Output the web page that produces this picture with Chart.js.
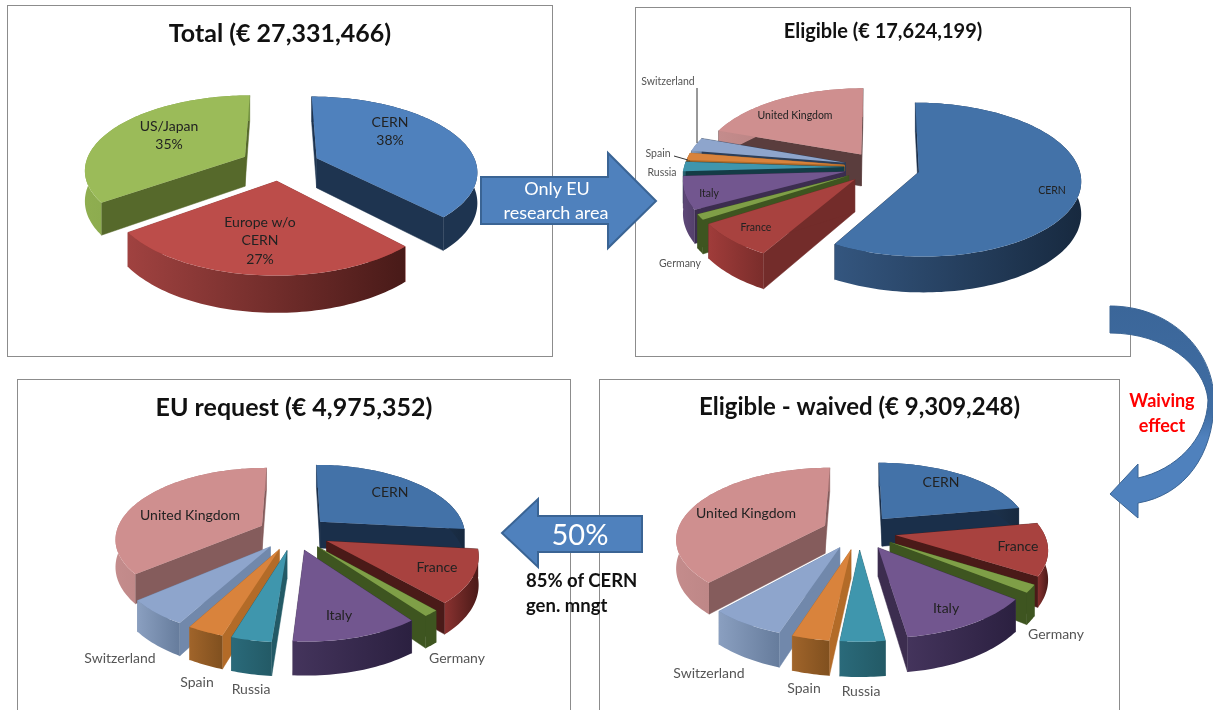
<!DOCTYPE html>
<html><head><meta charset="utf-8">
<script src="https://cdn.jsdelivr.net/npm/chart.js@4"></script>
<style>
html,body{margin:0;padding:0;background:#fff;overflow:hidden}
#page{position:relative;width:1213px;height:710px;overflow:hidden;font-family:Lato,sans-serif;filter:blur(.35px)}
.box{position:absolute;border:1px solid #8c8c8c;box-sizing:border-box;background:#fff}
canvas{display:block}
svg{position:absolute;left:0;top:0}
</style></head><body>
<div id="page">
<div class="box" style="left:7px;top:5px;width:546px;height:352px"><canvas id="c1" width="544" height="350"></canvas></div>
<div class="box" style="left:635px;top:7px;width:496px;height:350px"><canvas id="c2" width="494" height="348"></canvas></div>
<div class="box" style="left:17px;top:379px;width:554px;height:345px"><canvas id="c3" width="552" height="343"></canvas></div>
<div class="box" style="left:599px;top:379px;width:521px;height:345px"><canvas id="c4" width="519" height="343"></canvas></div>
<svg width="1213" height="710" font-family="Lato,sans-serif">
<defs><linearGradient id="curve" x1="0" y1="0" x2="0" y2="1"><stop offset="0" stop-color="#3b6699"/><stop offset=".5" stop-color="#3f6da3"/><stop offset=".62" stop-color="#4f81bd"/><stop offset="1" stop-color="#4f81bd"/></linearGradient></defs>
<path d="M481,177 H608 V153 L656,201 L608,248 V224 H481 Z" fill="#4f81bd" stroke="#3a6494" stroke-width="2"/>
<text x="557" y="195" fill="#fff" font-size="18" text-anchor="middle">Only EU</text>
<text x="556" y="219" fill="#fff" font-size="18" text-anchor="middle">research area</text>
<path d="M642,516 H538 V499 L502,533 L538,567 V552 H642 Z" fill="#4f81bd" stroke="#3a6494" stroke-width="2"/>
<text x="580" y="545" fill="#fff" font-size="29" text-anchor="middle">50%</text>
<text x="526" y="587" fill="#111" font-size="18.5" font-weight="700">85% of CERN</text>
<text x="526" y="612" fill="#111" font-size="18.5" font-weight="700">gen. mngt</text>
<path d="M1110,306 C1170,306 1215,350 1214,403 C1213,455 1185,495 1138,503 L1138,518 L1110,494 L1138,464 L1138,478 C1175,470 1207,440 1208,400 C1205,365 1165,333 1110,333 Z" fill="url(#curve)" stroke="#3a6494" stroke-width="1"/>
<text x="1162" y="407" fill="#ff0000" font-size="18" font-weight="700" text-anchor="middle">Waiving</text>
<text x="1162" y="432" fill="#ff0000" font-size="18" font-weight="700" text-anchor="middle">effect</text>
</svg>
</div>
<script>
// ---- categories ----
const totalCategories = [['CERN','38%'],['Europe w/o','CERN','27%'],['US/Japan','35%']];
const countryCategories = ['CERN','France','Germany','Italy','Russia','Spain','Switzerland','United Kingdom'];
// ---- series values (share of each total, %) ----
const totalValues    = [38, 27, 35];
const eligibleValues = [58.3, 7.6, 1.2, 7.0, 2.0, 1.5, 2.9, 19.5];
const waivedValues   = [22.2, 11.7, 1.7, 12.2, 3.9, 3.3, 6.7, 38.3];
const requestValues  = [26.7, 11.7, 1.4, 11.4, 3.6, 3.3, 5.8, 36.1];
// ---- titles ----
const titles = ['Total (€ 27,331,466)','Eligible (€ 17,624,199)','EU request (€ 4,975,352)','Eligible - waived (€ 9,309,248)'];
// ---- palettes: top face, cut face, rim left, rim right ----
const totalTop = ['#4f81bd','#bc4d4a','#9bbb59'];
const totalCut = ['#1e3450','#8f3533','#56692b'];
const totalRimL = ['#1e3450','#a04240','#8fae50'];
const totalRimR = ['#1e3450','#481a18','#7a9a45'];
const countryTop = ['#4372a8','#a8423f','#7f9f47','#72568f','#3f96ad','#d9833c','#8ea5cc','#cf8f8f'];
const countryCut = ['#1a2f4a','#4a1a18','#3e5520','#3c2d4f','#235a66','#b36b28','#7188ab','#855c5c'];
const countryRimL = ['#34567f','#8a3230','#3e5520','#44345c','#2a6a7a','#a0642a','#8a9fc0','#c48c8c'];
const countryRimR = ['#17293f','#4a1a18','#3e5520','#2b2040','#235a66','#80501f','#667c9c','#a87474'];
const eligibleCut = ['#1a2f4a','#732c2a','#3e5520','#3c2d4f','#143c46','#b36b28','#2c3e58','#5a3d3d'];
const eligibleRimL = ['#34567f','#a03c3a','#3e5520','#5e4878','#2a6a7a','#a0642a','#8a9fc0','#c48c8c'];
const eligibleRimR = ['#17293f','#7a2d2b','#3e5520','#54406c','#235a66','#80501f','#667c9c','#a87474'];
// ---- label layout (page coordinates of each label centre) ----
const totalLabelAt = [[390,122],[260,222],[169,126]];
const eligibleLabelAt = [[1052,191],[756,228],[680,264],[709,194],[662,173],[658,154],[668,82],[795,116]];
const waivedLabelAt = [[941,482],[1018,546],[1056,634],[946,608],[861,691],[804,688],[709,673],[746,513]];
const requestLabelAt = [[390,492],[437,567],[457,658],[339,615],[251,689],[197,682],[120,658],[190,515]];

// Draws the arcs the library laid out (their angles come from the pie controller)
// as exploded wedges seen in perspective.
const pie3d = {
  id:'pie3d',
  beforeDatasetDraw(chart,args,o){
    const ctx=chart.ctx, arcs=chart.getDatasetMeta(0).data, R=arcs[0].outerRadius;
    const mid=a=>(a.startAngle+a.endAngle)/2;
    const order=arcs.map((a,i)=>i).sort((i,j)=>Math.sin(mid(arcs[i]))-Math.sin(mid(arcs[j])));
    const w=Y=>1-o.p*Y/R;
    const proj=(X,Y)=>[o.cx+X/w(Y),o.cy+o.k*Y/w(Y),o.depth/w(Y)];
    for(const i of order){
      const arc=arcs[i], a0=arc.startAngle, a1=arc.endAngle, m=mid(arc), e=o.explode[i];
      const ex=e*Math.cos(m), ey=e*Math.sin(m);
      const apex=proj(ex,ey);
      const edge=t=>proj(ex+R*Math.cos(t),ey+R*Math.sin(t));
      ctx.lineWidth=.5;
      for(const t of [a0,a1]){
        const p=edge(t);
        ctx.beginPath();ctx.moveTo(apex[0],apex[1]);ctx.lineTo(p[0],p[1]);ctx.lineTo(p[0],p[1]+p[2]);ctx.lineTo(apex[0],apex[1]+apex[2]);ctx.closePath();
        ctx.fillStyle=ctx.strokeStyle=o.cut[i];ctx.fill();ctx.stroke();
      }
      const pts=[];const n=Math.max(12,Math.ceil((a1-a0)*40));for(let s=0;s<=n;s++)pts.push(edge(a0+(a1-a0)*s/n));
      const xs=pts.map(p=>p[0]);
      const g=ctx.createLinearGradient(Math.min(...xs),0,Math.max(...xs),0);
      g.addColorStop(0,o.rimL[i]);g.addColorStop(1,o.rimR[i]);
      ctx.beginPath();pts.forEach((p,s)=>s?ctx.lineTo(p[0],p[1]):ctx.moveTo(p[0],p[1]));
      for(let s=n;s>=0;s--)ctx.lineTo(pts[s][0],pts[s][1]+pts[s][2]);
      ctx.closePath();ctx.fillStyle=g;ctx.fill();
      ctx.beginPath();ctx.moveTo(apex[0],apex[1]);pts.forEach(p=>ctx.lineTo(p[0],p[1]));ctx.closePath();
      ctx.fillStyle=arc.options.backgroundColor;ctx.fill();
    }
    return false;
  },
  afterDatasetsDraw(chart,args,o){
    const ctx=chart.ctx;
    ctx.save();
    if(o.leaders){ctx.strokeStyle='#333';ctx.lineWidth=1;for(const l of o.leaders){ctx.beginPath();ctx.moveTo(l[0]-o.ox,l[1]-o.oy);ctx.lineTo(l[2]-o.ox,l[3]-o.oy);ctx.stroke();}}
    ctx.textAlign='center';ctx.textBaseline='middle';
    ctx.font=o.labelSize+'px Lato, sans-serif';
    chart.data.labels.forEach((lab,i)=>{
      const lines=Array.isArray(lab)?lab:[lab];
      const at=o.labelAt[i];
      ctx.fillStyle=o.labelColor(i);
      lines.forEach((t,j)=>ctx.fillText(t,at[0]-o.ox,at[1]-o.oy+j*o.lineGap));
    });
    ctx.restore();
  }
};
Chart.register(pie3d);

function makePie(id,title,titleSize,titlePad,labels,values,cfg){
  return new Chart(document.getElementById(id),{
    type:'pie',
    data:{labels,datasets:[{data:values,backgroundColor:cfg.top,borderWidth:0,radius:cfg.radius}]},
    options:{
      responsive:false,animation:false,events:[],
      layout:{padding:0},
      plugins:{
        legend:{display:false},tooltip:{enabled:false},
        title:{display:true,text:title,color:'#111',align:'center',font:{family:'Lato, sans-serif',size:titleSize,weight:'700'},padding:{top:titlePad,bottom:0}},
        pie3d:cfg
      }
    }
  });
}
const outside=names=>i=>names.includes(i)?'#555':'#222';
makePie('c1',titles[0],25,13,totalCategories,totalValues,{
  radius:160,cx:280-8,cy:165-6,k:.46,p:.16,depth:30,explode:[40,34,40],
  top:totalTop,cut:totalCut,rimL:totalRimL,rimR:totalRimR,labelAt:totalLabelAt,labelSize:14,lineGap:18.5,ox:8,oy:6,labelColor:i=>'#222'});
makePie('c2',titles[1],20,12,countryCategories,eligibleValues,{
  radius:160,cx:880-636,cy:167-8,k:.47,p:.1,depth:32,explode:[40,36,36,36,36,36,36,33],
  top:countryTop,cut:eligibleCut,rimL:eligibleRimL,rimR:eligibleRimR,labelAt:eligibleLabelAt,labelSize:10.5,lineGap:0,ox:636,oy:8,
  leaders:[[697,88,697,143],[674,156,688,160]],labelColor:outside([2,4,5,6])});
makePie('c3',titles[2],25,13,countryCategories,requestValues,{
  radius:146,cx:294-18,cy:533-380,k:.478,p:.166,depth:27,explode:[36,36,36,36,36,36,36,36],
  top:countryTop,cut:countryCut,rimL:countryRimL,rimR:countryRimR,labelAt:requestLabelAt,labelSize:14,lineGap:0,ox:18,oy:380,labelColor:outside([2,4,5,6])});
makePie('c4',titles[3],24,13,countryCategories,waivedValues,{
  radius:148,cx:859-600,cy:532-380,k:.47,p:.166,depth:28,explode:[37,37,37,37,37,37,37,37],
  top:countryTop,cut:countryCut,rimL:countryRimL,rimR:countryRimR,labelAt:waivedLabelAt,labelSize:14,lineGap:0,ox:600,oy:380,labelColor:outside([2,4,5,6])});
</script>
</body></html>
